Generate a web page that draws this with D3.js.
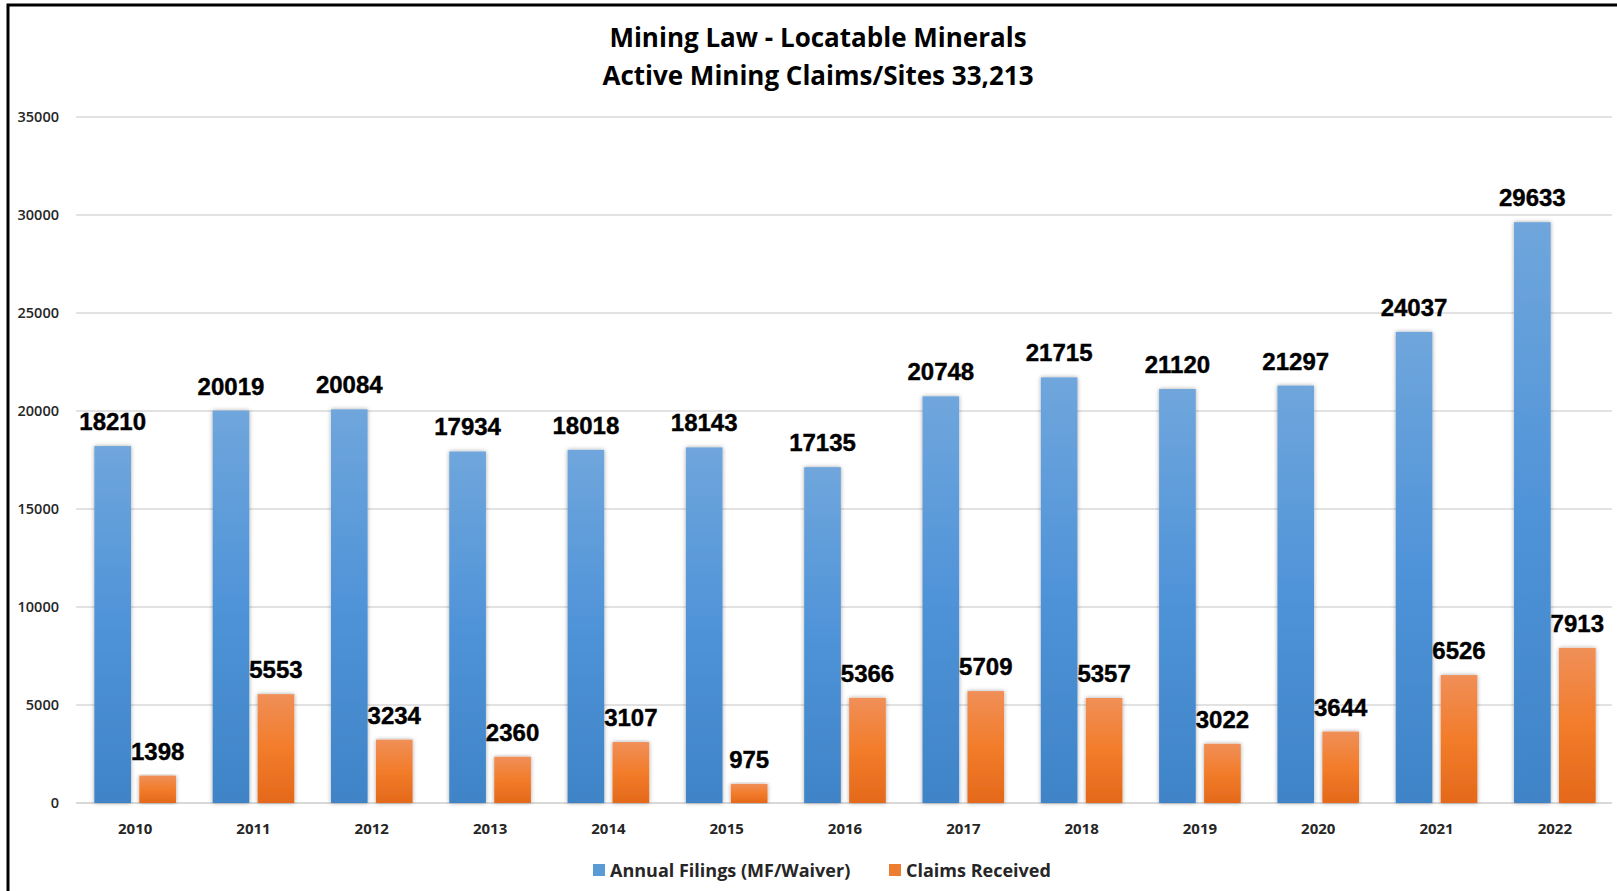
<!DOCTYPE html>
<html>
<head>
<meta charset="utf-8">
<script src="https://cdn.jsdelivr.net/npm/d3@7"></script>
<style>
  body { margin: 0; background: #fff; }
  svg { display: block; }
</style>
</head>
<body>
<svg width="1617" height="891"></svg>
<script>
// values
const years = ["2010", "2011", "2012", "2013", "2014", "2015", "2016", "2017", "2018", "2019", "2020", "2021", "2022"];
const annualFilings = [18210, 20019, 20084, 17934, 18018, 18143, 17135, 20748, 21715, 21120, 21297, 24037, 29633];
const claimsReceived = [1398, 5553, 3234, 2360, 3107, 975, 5366, 5709, 5357, 3022, 3644, 6526, 7913];
const seriesNames = ["Annual Filings (MF/Waiver)", "Claims Received"];
const yTicks = [0, 5000, 10000, 15000, 20000, 25000, 30000, 35000];
const titleLines = ["Mining Law - Locatable Minerals", "Active Mining Claims/Sites 33,213"];

const svg = d3.select("svg"),
    margin = {top: 117, right: 3, bottom: 88, left: 76},
    width = +svg.attr("width") - margin.left - margin.right,
    height = +svg.attr("height") - margin.top - margin.bottom;

// frame (left + top edges visible in the reference)
svg.append("path")
    .attr("d", "M8,891 L8,5 L1617,5")
    .attr("fill", "none")
    .attr("stroke", "#000")
    .attr("stroke-width", 3);

const defs = svg.append("defs");
const grad = (id, top, mid, bot) => {
  const lg = defs.append("linearGradient").attr("id", id)
      .attr("x1", 0).attr("y1", 0).attr("x2", 0).attr("y2", 1);
  lg.append("stop").attr("offset", "0%").attr("stop-color", top);
  lg.append("stop").attr("offset", "50%").attr("stop-color", mid);
  lg.append("stop").attr("offset", "100%").attr("stop-color", bot);
};
grad("gBlue", "#6fa6dc", "#4f93d8", "#3f84c7");
grad("gOrange", "#f08f58", "#f27c2a", "#e4691b");

const shadow = defs.append("filter").attr("id", "shadow")
    .attr("x", "-20%").attr("y", "-5%").attr("width", "140%").attr("height", "110%");
shadow.append("feDropShadow")
    .attr("dx", 0).attr("dy", 0).attr("stdDeviation", 2)
    .attr("flood-color", "#000").attr("flood-opacity", 0.35);

const g = svg.append("g").attr("transform", "translate(" + margin.left + "," + margin.top + ")");

const x0 = d3.scaleBand().domain(years).range([0, width]).paddingInner(0.31).paddingOuter(0.155);
const x1 = d3.scaleBand().domain([0, 1]).range([0, x0.bandwidth()]).paddingInner(0.185);
const y = d3.scaleLinear().domain([0, 35000]).range([height, 0]);

// gridlines
g.append("g")
    .selectAll("line")
    .data(yTicks)
    .join("line")
      .attr("x1", 0).attr("x2", width - 2)
      .attr("y1", d => y(d)).attr("y2", d => y(d))
      .attr("stroke", "#d9d9d9")
      .attr("stroke-width", d => d === 0 ? 2 : 1.3);

// y axis labels
g.append("g")
    .call(d3.axisLeft(y).tickValues(yTicks).tickSize(0).tickPadding(17).tickFormat(d3.format("d")))
    .call(a => a.select(".domain").remove())
    .selectAll("text")
      .attr("font-family", "Open Sans, sans-serif")
      .attr("font-size", 14.5)
      .attr("font-weight", 600)
      .attr("fill", "#262626");

// x axis labels
g.append("g")
    .attr("transform", "translate(0," + height + ")")
    .call(d3.axisBottom(x0).tickSize(0).tickPadding(20))
    .call(a => a.select(".domain").remove())
    .selectAll("text")
      .attr("font-family", "Open Sans, sans-serif")
      .attr("font-size", 15)
      .attr("font-weight", 700)
      .attr("fill", "#262626");

const rows = years.map((yr, i) => ({year: yr, vals: [annualFilings[i], claimsReceived[i]]}));
const fills = ["url(#gBlue)", "url(#gOrange)"];

const groups = g.selectAll(".grp")
    .data(rows)
    .join("g")
      .attr("class", "grp")
      .attr("transform", d => "translate(" + x0(d.year) + ",0)");

groups.selectAll("rect")
    .data(d => d.vals.map((v, k) => ({k, v})))
    .join("rect")
      .attr("x", d => x1(d.k))
      .attr("y", d => y(d.v))
      .attr("width", x1.bandwidth())
      .attr("height", d => height - y(d.v))
      .attr("fill", d => fills[d.k])
      .attr("filter", "url(#shadow)");

groups.selectAll("text.val")
    .data(d => d.vals.map((v, k) => ({k, v})))
    .join("text")
      .attr("class", "val")
      .attr("x", d => x1(d.k) + x1.bandwidth() / 2)
      .attr("y", d => y(d.v) - 16)
      .attr("text-anchor", "middle")
      .attr("font-family", "Liberation Sans, Arial, sans-serif")
      .attr("font-size", 24)
      .attr("font-weight", 700)
      .attr("stroke", "#000")
      .attr("stroke-width", 0.4)
      .attr("fill", "#000")
      .text(d => d.v);

// title
svg.append("g")
    .selectAll("text")
    .data(titleLines)
    .join("text")
      .attr("x", 818)
      .attr("y", (d, i) => 47 + i * 38)
      .attr("text-anchor", "middle")
      .attr("font-family", "Open Sans, sans-serif")
      .attr("font-size", 26)
      .attr("font-weight", 700)
      .attr("fill", "#000")
      .text(d => d);

// legend
const legendX = [593, 889];
const leg = svg.append("g")
    .selectAll("g")
    .data(seriesNames)
    .join("g")
      .attr("transform", (d, i) => "translate(" + legendX[i] + ",870)");
leg.append("rect")
    .attr("x", 0).attr("y", -6)
    .attr("width", 12).attr("height", 12)
    .attr("fill", (d, i) => ["#5b9bd5", "#ed7d31"][i]);
leg.append("text")
    .attr("x", 17).attr("y", 7)
    .attr("font-family", "Open Sans, sans-serif")
    .attr("font-size", 18)
    .attr("font-weight", 700)
    .attr("fill", "#262626")
    .text(d => d);
</script>
</body>
</html>
